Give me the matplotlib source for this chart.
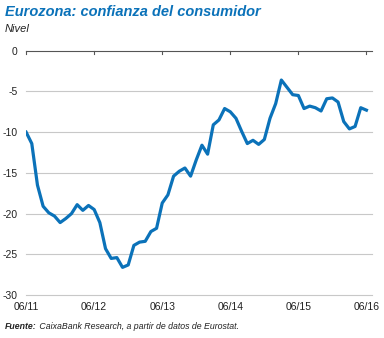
import matplotlib
matplotlib.use("Agg")
import matplotlib.pyplot as plt
import numpy as np

plt.rcParams.update({
    "font.family": ["Liberation Sans", "DejaVu Sans"],
    "font.size": 7.5,
})

# monthly values, 06/2011 .. 06/2016
confianza = [
    -10.0, -11.4, -16.5, -19.1, -19.9, -20.3, -21.1, -20.6, -20.0, -18.9,
    -19.6, -19.0, -19.5, -21.1, -24.3, -25.5, -25.4, -26.6, -26.3, -23.9,
    -23.5, -23.4, -22.2, -21.8, -18.7, -17.7, -15.4, -14.8, -14.4, -15.4,
    -13.4, -11.6, -12.7, -9.1, -8.5, -7.1, -7.5, -8.3, -9.9, -11.4,
    -11.0, -11.5, -10.9, -8.3, -6.5, -3.6, -4.5, -5.4, -5.5, -7.1,
    -6.8, -7.0, -7.4, -5.9, -5.8, -6.3, -8.7, -9.6, -9.3, -7.0,
    -7.3,
]
tick_labels = ["06/11", "06/12", "06/13", "06/14", "06/15", "06/16"]
y_ticks = [0, -5, -10, -15, -20, -25, -30]

blue = "#0b72b9"

fig = plt.figure(figsize=(3.84, 3.38), dpi=100)
ax = fig.add_axes([0.068, 0.127, 0.901, 0.723])

months = np.arange(len(confianza))
ax.plot(months, confianza, color=blue, lw=2.3, solid_joinstyle="round", zorder=3)

ax.set_xlim(0, 61)
ax.set_ylim(-30, 0)
ax.set_yticks(y_ticks)
ax.set_yticklabels([str(v) for v in y_ticks], color="#222222")
ax.set_xticks(np.arange(0, 61, 12))
ax.set_xticklabels(tick_labels, color="#222222")

for v in y_ticks[1:]:
    ax.axhline(v, color="#c8c8c8", lw=0.8, zorder=1, clip_on=False)

for s in ["left", "right", "bottom"]:
    ax.spines[s].set_visible(False)
ax.spines["top"].set_color("#555555")
ax.spines["top"].set_linewidth(0.8)

ax.tick_params(axis="y", length=0, pad=6)
ax.tick_params(axis="x", length=0, pad=5)
# small tick marks hanging from the zero line
for m in np.arange(0, 61, 12):
    ax.plot([m, m], [0, -0.35], color="#555555", lw=0.8, clip_on=False)

fig.text(0.013, 0.965, "Eurozona: confianza del consumidor", color=blue,
         fontsize=10.5, fontweight="bold", fontstyle="italic", va="center")
fig.text(0.013, 0.915, "Nivel", fontsize=8, fontstyle="italic", va="center",
         color="#222222")
src = fig.text(0.013, 0.035, "Fuente:", fontsize=6.3, fontweight="bold",
               fontstyle="italic", va="center", color="#222222")
ax.annotate(" CaixaBank Research, a partir de datos de Eurostat.",
            xy=(1, 0.5), xycoords=src, va="center", ha="left",
            fontsize=6.3, fontstyle="italic", color="#222222",
            annotation_clip=False)

fig.savefig("out.png", dpi=100)
